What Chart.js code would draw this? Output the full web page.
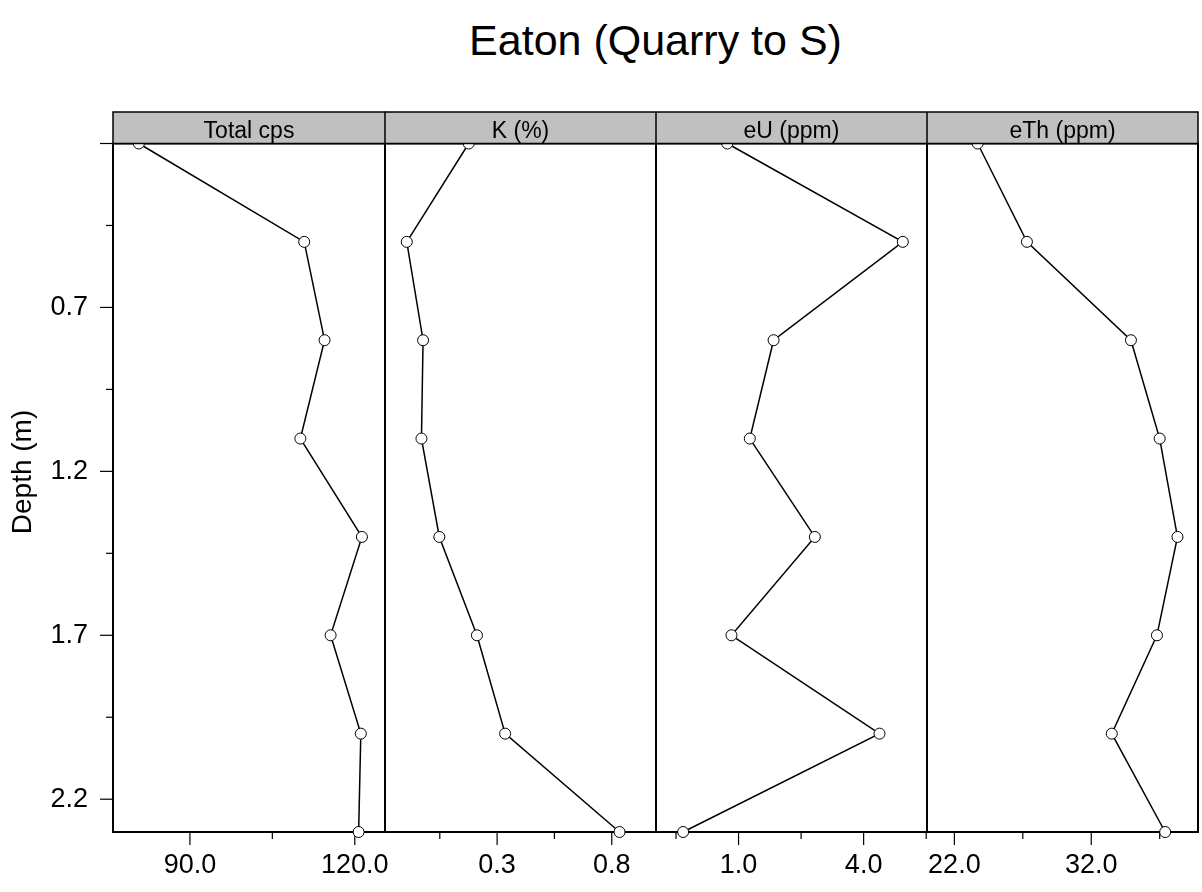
<!DOCTYPE html>
<html>
<head>
<meta charset="utf-8">
<title>Eaton (Quarry to S)</title>
<script src="https://cdn.jsdelivr.net/npm/chart.js@4.4.1/dist/chart.umd.min.js"></script>
<style>
  html, body { margin: 0; padding: 0; background: #fff; }
  #page { position: relative; width: 1202px; height: 892px; overflow: hidden;
          font-family: "Liberation Sans", Arial, Helvetica, sans-serif; }
  #title { position: absolute; left: 113px; width: 1085px; top: 15px; text-align: center;
           font-size: 43px; line-height: 50px; color: #000; }
  canvas { position: absolute; top: 100px; }
</style>
</head>
<body>
<div id="page">
  <div id="title">Eaton (Quarry to S)</div>
  <canvas id="p0" width="405" height="792" style="left:0px"></canvas>
  <canvas id="p1" width="271" height="792" style="left:385px"></canvas>
  <canvas id="p2" width="271" height="792" style="left:656px"></canvas>
  <canvas id="p3" width="273" height="792" style="left:927px"></canvas>
</div>
<script>
// sample depths (m), top of the section first
const depths = [0.2, 0.5, 0.8, 1.1, 1.4, 1.7, 2.0, 2.3];

const panelNames = ['Total cps', 'K (%)', 'eU (ppm)', 'eTh (ppm)'];

// readings at each depth
const totalCps  = [80.7, 110.8, 114.5, 110.1, 121.3, 115.6, 121.1, 120.7];
const potassium = [0.176, -0.094, -0.023, -0.030, 0.048, 0.212, 0.335, 0.834];
const uranium   = [0.73, 4.94, 1.84, 1.27, 2.83, 0.83, 4.38, -0.33];
const thorium   = [23.7, 27.3, 34.9, 37.0, 38.3, 36.8, 33.5, 37.4];

// depth axis ticks
const depthMajor  = [0.2, 0.7, 1.2, 1.7, 2.2];
const depthLabels = ['', '0.7', '1.2', '1.7', '2.2'];
const depthMinor  = [0.45, 0.95, 1.45, 1.95];

// per-panel x ticks
const cpsMajor = [90, 120],  cpsMinor = [105];
const kMajor   = [0.3, 0.8], kMinor   = [0.05, 0.55];
const uMajor   = [1, 4],     uMinor   = [-0.5, 2.5, 5.5];
const thMajor  = [22, 32],   thMinor  = [27, 37];

const FONT = '"Liberation Sans", Arial, Helvetica, sans-serif';
Chart.defaults.font.family = FONT;
Chart.defaults.color = '#000';

// canvas padRight leaves room for tick labels that hang past the panel edge
const panels = [
  { id: 'p0', values: totalCps,  min: 76.0,   max: 125.5, major: cpsMajor, minor: cpsMinor, padRight: 20 },
  { id: 'p1', values: potassium, min: -0.189, max: 0.993, major: kMajor,   minor: kMinor,   padRight: 0 },
  { id: 'p2', values: uranium,   min: -0.98,  max: 5.52,  major: uMajor,   minor: uMinor,   padRight: 0 },
  { id: 'p3', values: thorium,   min: 20.0,   max: 39.8,  major: thMajor,  minor: thMinor,  padRight: 2 }
];

function tickLines(ctx, scale, horizontal, area, major, minor) {
  const mark = (v, len) => {
    const p = scale.getPixelForValue(v);
    ctx.beginPath();
    if (horizontal) { ctx.moveTo(p, area.bottom); ctx.lineTo(p, area.bottom + len); }
    else { ctx.moveTo(area.left - len, p); ctx.lineTo(area.left, p); }
    ctx.stroke();
  };
  major.forEach(v => mark(v, 13));
  minor.forEach(v => mark(v, 7));
}

// panel box, tick marks and the grey strip with the panel name
const panelFrame = {
  id: 'panelFrame',
  beforeDatasetsDraw(chart, args, opts) {
    const { ctx, chartArea: a, scales } = chart;
    ctx.save();
    ctx.strokeStyle = '#000';
    ctx.lineWidth = 1.2;
    tickLines(ctx, scales.x, true, a, opts.major, opts.minor);
    if (opts.depthAxis) {
      tickLines(ctx, scales.y, false, a, depthMajor, depthMinor);
      ctx.save();
      ctx.font = '28px ' + FONT;
      ctx.fillStyle = '#000';
      ctx.textAlign = 'center';
      ctx.textBaseline = 'middle';
      ctx.translate(23, (a.top - 31.5 + a.bottom) / 2);
      ctx.rotate(-Math.PI / 2);
      ctx.fillText('Depth (m)', 0, 0);
      ctx.restore();
    }
    ctx.lineWidth = 2;
    ctx.strokeRect(a.left, a.top, a.right - a.left, a.bottom - a.top);
    ctx.restore();
  },
  afterDatasetsDraw(chart, args, opts) {
    const { ctx, chartArea: a } = chart;
    const h = 31.5;
    ctx.save();
    ctx.fillStyle = '#c0c0c0';
    ctx.fillRect(a.left, a.top - h, a.right - a.left, h);
    ctx.strokeStyle = '#000';
    ctx.lineWidth = 1.5;
    ctx.strokeRect(a.left, a.top - h, a.right - a.left, h);
    ctx.fillStyle = '#000';
    ctx.font = '23px ' + FONT;
    ctx.textAlign = 'center';
    ctx.textBaseline = 'alphabetic';
    ctx.fillText(opts.name, (a.left + a.right) / 2, a.top - 6);
    ctx.restore();
  }
};

panels.forEach((p, i) => {
  const first = i === 0;
  const xTicks = p.major.concat(p.minor).sort((a, b) => a - b);
  const yTicks = depthMajor.concat(depthMinor).sort((a, b) => a - b);

  new Chart(document.getElementById(p.id), {
    type: 'scatter',
    data: {
      datasets: [{
        data: depths.map((d, k) => ({ x: p.values[k], y: d })),
        showLine: true,
        borderColor: '#000',
        borderWidth: 1.5,
        pointRadius: 5.5,
        pointBackgroundColor: '#fff',
        pointBorderColor: '#000',
        pointBorderWidth: 1,
        clip: false
      }]
    },
    options: {
      responsive: false,
      animation: false,
      events: [],
      layout: { autoPadding: false, padding: { top: 43.5, left: 0, right: p.padRight, bottom: 0 } },
      plugins: {
        legend: { display: false },
        tooltip: { enabled: false },
        panelFrame: { name: panelNames[i], major: p.major, minor: p.minor, depthAxis: first }
      },
      scales: {
        x: {
          type: 'linear',
          position: 'bottom',
          min: p.min,
          max: p.max,
          bounds: 'data',
          border: { display: false },
          grid: { drawOnChartArea: false, drawTicks: false },
          afterBuildTicks: s => { s.ticks = xTicks.map(v => ({ value: v })); },
          afterFit: s => {
            s.height = 60;
            s.paddingLeft = 0;
            s.paddingRight = 0;
          },
          ticks: {
            autoSkip: false,
            maxRotation: 0,
            padding: 17,
            font: { size: 27 },
            callback: v => p.major.includes(v) ? v.toFixed(1) : ''
          }
        },
        y: {
          type: 'linear',
          display: first,
          reverse: true,
          min: 0.2,
          max: 2.3,
          bounds: 'data',
          border: { display: false },
          grid: { drawOnChartArea: false, drawTicks: false },
          afterBuildTicks: s => { s.ticks = yTicks.map(v => ({ value: v })); },
          afterFit: s => {
            s.width = first ? 113 : 0;
            s.paddingTop = 0;
            s.paddingBottom = 0;
          },
          ticks: {
            autoSkip: false,
            padding: 25,
            font: { size: 27 },
            callback: v => {
              const k = depthMajor.indexOf(v);
              return k >= 0 ? depthLabels[k] : '';
            }
          }
        }
      }
    },
    plugins: [panelFrame]
  });
});
</script>
</body>
</html>
